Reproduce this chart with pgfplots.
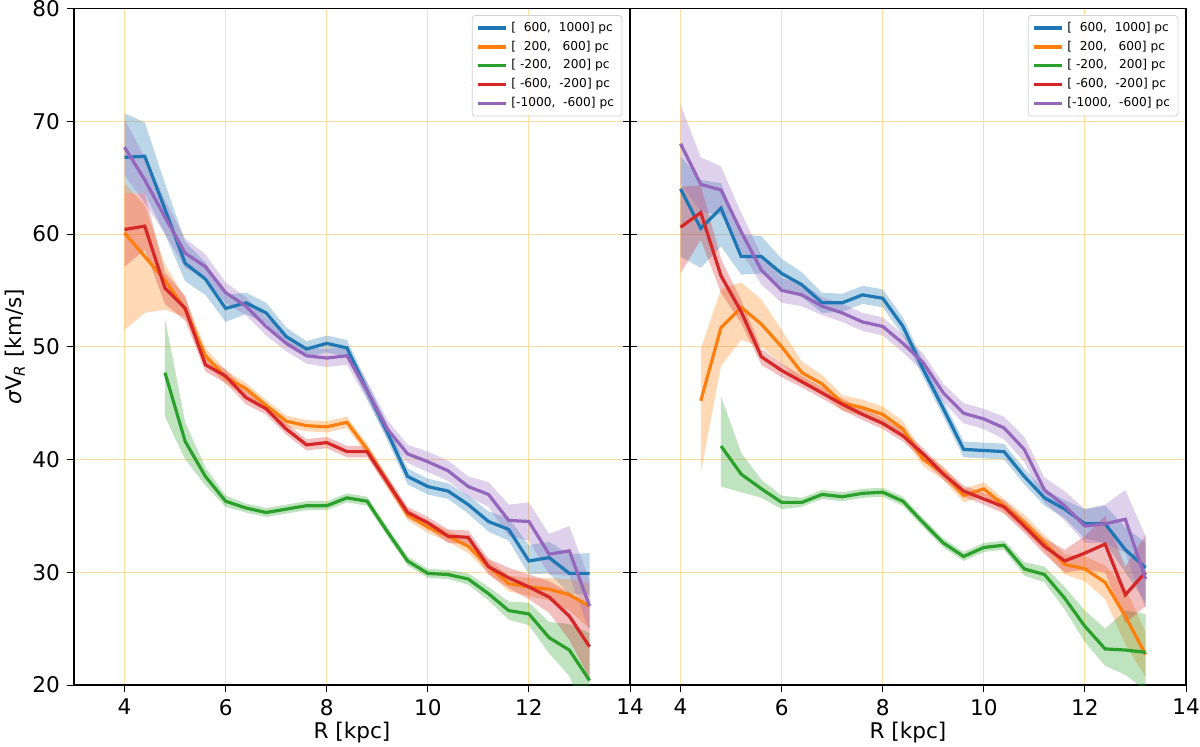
\documentclass[border=0pt]{standalone}
\usepackage{pgfplots}
\pgfplotsset{compat=1.18}
\usepackage{pgfplotstable}
\usepgfplotslibrary{fillbetween}
\usepackage{fontspec}
\setmainfont{DejaVu Sans}
\definecolor{C0}{HTML}{1F77B4}
\definecolor{C1}{HTML}{FF7F0E}
\definecolor{C2}{HTML}{2CA02C}
\definecolor{C3}{HTML}{D62728}
\definecolor{C4}{HTML}{9467BD}
\definecolor{gridc}{RGB}{255,222,160}
\definecolor{legc}{RGB}{210,210,210}

% ---------------- LEFT PANEL ----------------
\pgfplotstableread{
R y lo hi
4.0 66.8 63.6 70.7
4.4 66.9 63.6 69.9
4.8 62.2 60.0 64.5
5.2 57.4 55.8 59.3
5.6 56.0 54.6 57.5
6.0 53.4 52.2 54.6
6.4 53.9 52.9 54.8
6.8 53.0 52.1 53.9
7.2 50.9 50.1 51.7
7.6 49.8 49.1 50.5
8.0 50.3 49.5 51.0
8.4 49.9 49.1 50.6
8.8 46.1 45.4 46.8
9.2 42.4 41.7 43.1
9.6 38.5 37.8 39.2
10.0 37.6 36.9 38.3
10.4 37.2 36.5 37.9
10.8 36.0 35.2 36.8
11.2 34.5 33.6 35.4
11.6 33.8 32.8 34.8
12.0 31.0 29.8 32.4
12.4 31.3 29.9 32.7
12.8 29.9 28.1 31.6
13.2 29.9 28.0 31.7
}\LA
\pgfplotstableread{
R y lo hi
4.0 60.1 51.5 64.5
4.4 58.0 53.0 62.5
4.8 55.9 53.3 57.3
5.2 53.3 52.6 54.3
5.6 49.2 48.6 49.9
6.0 47.3 46.7 47.9
6.4 46.3 45.8 46.8
6.8 44.8 44.3 45.3
7.2 43.4 42.9 43.9
7.6 43.0 42.5 43.5
8.0 42.9 42.4 43.4
8.4 43.3 42.8 43.8
8.8 40.9 40.4 41.4
9.2 38.0 37.5 38.5
9.6 35.1 34.6 35.6
10.0 34.0 33.5 34.5
10.4 33.2 32.7 33.7
10.8 32.3 31.7 32.9
11.2 30.5 29.9 31.1
11.6 29.0 28.3 29.7
12.0 28.7 27.9 29.5
12.4 28.5 27.5 29.5
12.8 28.0 26.6 29.4
13.2 27.0 25.0 29.0
}\LB
\pgfplotstableread{
R y lo hi
4.8 47.7 43.8 52.5
5.2 41.6 40.0 43.3
5.6 38.5 37.7 39.3
6.0 36.3 35.8 36.8
6.4 35.7 35.3 36.1
6.8 35.3 34.9 35.7
7.2 35.6 35.2 36.0
7.6 35.9 35.5 36.3
8.0 35.9 35.5 36.3
8.4 36.6 36.2 37.0
8.8 36.3 35.9 36.7
9.2 33.6 33.2 34.0
9.6 31.0 30.6 31.4
10.0 29.9 29.5 30.3
10.4 29.8 29.4 30.2
10.8 29.4 28.9 29.9
11.2 28.1 27.5 28.7
11.6 26.6 25.8 27.4
12.0 26.3 25.3 27.3
12.4 24.2 22.8 25.6
12.8 23.1 20.8 25.4
13.2 20.4 16.0 24.6
}\LC
\pgfplotstableread{
R y lo hi
4.0 60.4 57.1 63.6
4.4 60.7 58.6 63.6
4.8 55.2 53.8 56.6
5.2 53.4 52.3 54.5
5.6 48.4 47.8 49.0
6.0 47.4 46.8 48.0
6.4 45.5 44.9 46.1
6.8 44.5 44.0 45.0
7.2 42.7 42.2 43.2
7.6 41.3 40.8 41.8
8.0 41.5 41.0 42.0
8.4 40.7 40.2 41.2
8.8 40.7 40.2 41.2
9.2 38.0 37.5 38.5
9.6 35.3 34.8 35.8
10.0 34.4 33.9 34.9
10.4 33.2 32.6 33.8
10.8 33.1 32.5 33.7
11.2 30.5 29.8 31.2
11.6 29.5 28.6 30.4
12.0 28.7 27.6 29.8
12.4 27.8 26.4 29.2
12.8 26.1 24.0 28.2
13.2 23.4 20.6 27.0
}\LD
\pgfplotstableread{
R y lo hi
4.0 67.7 65.2 70.2
4.4 64.8 62.8 66.8
4.8 61.5 60.0 63.0
5.2 58.3 57.0 59.6
5.6 57.1 56.0 58.2
6.0 54.8 53.9 55.7
6.4 53.6 52.8 54.4
6.8 51.8 51.0 52.6
7.2 50.3 49.6 51.0
7.6 49.2 48.5 49.9
8.0 49.0 48.2 49.8
8.4 49.2 48.4 50.0
8.8 46.1 45.3 46.9
9.2 42.7 41.9 43.5
9.6 40.5 39.7 41.3
10.0 39.8 38.9 40.7
10.4 39.0 38.1 39.9
10.8 37.6 36.7 38.5
11.2 36.9 35.8 38.0
11.6 34.6 33.2 36.0
12.0 34.5 32.8 36.2
12.4 31.6 29.8 33.4
12.8 31.9 29.7 34.1
13.2 27.0 24.8 29.3
}\LE

% ---------------- RIGHT PANEL ----------------
\pgfplotstableread{
R y lo hi
4.0 64.0 58.0 66.9
4.4 60.5 57.0 64.8
4.8 62.3 58.9 64.5
5.2 58.0 56.4 60.0
5.6 58.0 56.5 59.8
6.0 56.5 55.2 57.8
6.4 55.5 54.4 56.6
6.8 53.9 53.0 54.8
7.2 53.9 53.1 54.7
7.6 54.6 53.8 55.4
8.0 54.3 53.5 55.1
8.4 51.8 51.0 52.6
8.8 48.0 47.3 48.7
9.2 44.5 43.8 45.2
9.6 40.9 40.2 41.6
10.0 40.8 40.1 41.5
10.4 40.7 40.0 41.4
10.8 38.5 37.8 39.2
11.2 36.6 35.9 37.3
11.6 35.6 34.8 36.4
12.0 34.3 33.0 35.6
12.4 34.3 32.6 35.9
12.8 32.0 30.0 34.0
13.2 30.4 27.3 32.6
}\RA
\pgfplotstableread{
R y lo hi
4.4 45.2 38.8 49.8
4.8 51.7 48.3 55.1
5.2 53.5 50.6 55.7
5.6 52.0 50.0 54.2
6.0 50.0 48.5 51.5
6.4 47.7 46.7 48.7
6.8 46.7 45.9 47.5
7.2 45.0 44.3 45.7
7.6 44.6 43.9 45.3
8.0 44.0 43.3 44.7
8.4 42.7 42.0 43.4
8.8 40.0 39.4 40.6
9.2 38.8 38.2 39.4
9.6 36.8 36.2 37.4
10.0 37.4 36.8 38.0
10.4 35.9 35.3 36.5
10.8 34.4 33.7 35.1
11.2 32.6 31.9 33.3
11.6 30.7 29.8 31.6
12.0 30.3 29.2 31.4
12.4 29.1 27.6 30.6
12.8 26.1 23.6 28.6
13.2 22.7 20.7 24.7
}\RB
\pgfplotstableread{
R y lo hi
4.8 41.2 37.6 45.6
5.2 38.7 37.1 40.6
5.6 37.4 36.6 38.2
6.0 36.2 35.6 36.8
6.4 36.2 35.8 36.6
6.8 36.9 36.5 37.3
7.2 36.7 36.3 37.1
7.6 37.0 36.6 37.4
8.0 37.1 36.7 37.5
8.4 36.3 35.9 36.7
8.8 34.4 34.0 34.8
9.2 32.6 32.2 33.0
9.6 31.4 31.0 31.8
10.0 32.2 31.8 32.6
10.4 32.4 32.0 32.8
10.8 30.3 29.7 30.9
11.2 29.8 29.1 30.5
11.6 27.7 26.7 28.7
12.0 25.2 23.8 26.6
12.4 23.2 21.7 25.0
12.8 23.1 20.9 26.6
13.2 22.9 19.5 26.3
}\RC
\pgfplotstableread{
R y lo hi
4.0 60.6 56.5 64.2
4.4 61.9 59.5 64.3
4.8 56.3 54.8 57.8
5.2 53.1 52.1 54.1
5.6 49.1 48.4 49.8
6.0 47.9 47.3 48.5
6.4 46.9 46.4 47.4
6.8 45.9 45.4 46.4
7.2 44.9 44.4 45.4
7.6 44.0 43.5 44.5
8.0 43.2 42.7 43.7
8.4 42.1 41.6 42.6
8.8 40.5 40.0 41.0
9.2 38.7 38.2 39.2
9.6 37.2 36.7 37.7
10.0 36.5 36.0 37.0
10.4 35.8 35.2 36.4
10.8 34.1 33.5 34.7
11.2 32.3 31.6 33.0
11.6 31.0 30.0 32.0
12.0 31.7 30.2 33.2
12.4 32.5 30.0 35.0
12.8 28.0 25.5 30.5
13.2 30.0 27.0 33.3
}\RD
\pgfplotstableread{
R y lo hi
4.0 68.0 64.5 71.5
4.4 64.4 62.0 66.8
4.8 63.9 61.7 66.0
5.2 60.2 58.5 61.9
5.6 56.8 55.5 58.1
6.0 55.0 53.9 56.1
6.4 54.6 53.6 55.6
6.8 53.6 52.8 54.4
7.2 53.0 52.2 53.8
7.6 52.2 51.4 53.0
8.0 51.8 51.0 52.6
8.4 50.3 49.5 51.1
8.8 48.6 47.8 49.4
9.2 45.9 45.1 46.7
9.6 44.1 43.2 45.0
10.0 43.6 42.7 44.5
10.4 42.8 41.8 43.8
10.8 40.9 39.8 42.0
11.2 37.3 36.2 38.4
11.6 35.9 34.6 37.2
12.0 34.1 32.6 35.6
12.4 34.3 32.6 36.0
12.8 34.7 31.7 37.3
13.2 29.4 26.7 33.2
}\RE

\newcommand{\band}[4]{%
  \addplot[#2, line width=1.6pt] table[x=R,y=y]{#1};
  \addlegendentry{#4}
  \addplot[draw=none, name path=u#3, forget plot] table[x=R,y=hi]{#1};
  \addplot[draw=none, name path=l#3, forget plot] table[x=R,y=lo]{#1};
  \addplot[fill=#2, fill opacity=0.3, draw=none, forget plot] fill between[of=u#3 and l#3];
}

\pgfplotsset{
  myaxis/.style={
    scale only axis, width=278pt, height=338.25pt,
    xmin=3, xmax=14, ymin=20, ymax=80,
    xtick={4,6,8,10,12,14}, ytick={20,30,40,50,60,70,80},
    grid=major, major grid style={gridc, line width=0.45pt},
    tick align=outside, major tick length=3.5pt,
    tick style={black, line width=0.5pt},
    axis line style={black, line width=0.6pt},
    xtick pos=left,
    tick label style={font=\fontsize{10.8}{12}\selectfont},
    /pgf/number format/assume math mode=true,
    label style={font=\fontsize{10.8}{12}\selectfont},
    xlabel={R [kpc]},
    xlabel style={at={(axis description cs:0.5,0)}, yshift=-24pt, anchor=center},
    legend cell align=left,
    legend image code/.code={\draw[#1] (0pt,0pt) -- (14pt,0pt);},
    legend style={at={(rel axis cs:1,1)}, xshift=-3.8pt, yshift=-3.3pt, anchor=north east,
      draw=legc, rounded corners=1.5pt, fill=white, fill opacity=0.8, text opacity=1,
      font=\fontsize{6.1}{7}\selectfont, row sep=-0.7pt, inner xsep=2pt, inner ysep=1.2pt},
  }
}

\begin{document}
\begin{tikzpicture}
\begin{axis}[myaxis, at={(0pt,0pt)}, anchor=south west,
  ylabel={{\itshape σ}V\textsubscript{\itshape R} [km/s]},
  ylabel style={at={(axis description cs:-0.1061,0.5)}, rotate=0, anchor=center}]
\band{\LA}{C0}{a}{[\ \ 600,\ \ 1000] pc}
\band{\LB}{C1}{b}{[\ \ 200,\ \ \ 600] pc}
\band{\LC}{C2}{c}{[\ -200,\ \ \ 200] pc}
\band{\LD}{C3}{d}{[\ -600,\ \ -200] pc}
\band{\LE}{C4}{e}{[-1000,\ \ -600] pc}
\end{axis}
\begin{axis}[myaxis, at={(278pt,0pt)}, anchor=south west,
  ytick pos=left, yticklabels={}]
\band{\RA}{C0}{a}{[\ \ 600,\ \ 1000] pc}
\band{\RB}{C1}{b}{[\ \ 200,\ \ \ 600] pc}
\band{\RC}{C2}{c}{[\ -200,\ \ \ 200] pc}
\band{\RD}{C3}{d}{[\ -600,\ \ -200] pc}
\band{\RE}{C4}{e}{[-1000,\ \ -600] pc}
\end{axis}
\pgfresetboundingbox
\path (-37pt,-30.5pt) rectangle (563pt,342.5pt);
\end{tikzpicture}
\end{document}
